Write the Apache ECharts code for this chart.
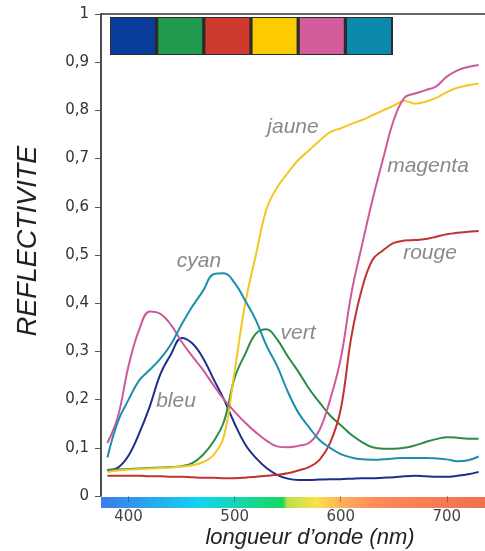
<!DOCTYPE html>
<html>
<head>
<meta charset="utf-8">
<script src="https://cdn.jsdelivr.net/npm/echarts@6.0.0/dist/echarts.min.js"></script>
<style>
  html, body { margin: 0; padding: 0; background: #fff; }
  #chart { width: 485px; height: 551px; }
</style>
</head>
<body>
<div id="chart"></div>
<script>
// longueurs d'onde (nm)
const wavelengths = [380, 390, 400, 410, 420, 430, 440, 450, 460, 470, 480, 490, 500, 510, 520, 530, 540, 550,
  560, 570, 580, 590, 600, 610, 620, 630, 640, 650, 660, 670, 680, 690, 700, 710, 720, 730];

const bleu = [0.054, 0.059, 0.084, 0.13, 0.186, 0.253, 0.294, 0.328, 0.317, 0.287, 0.243, 0.2, 0.15, 0.107, 0.079, 0.058, 0.044, 0.036,
  0.033, 0.033, 0.034, 0.035, 0.035, 0.036, 0.037, 0.037, 0.038, 0.039, 0.041, 0.042, 0.041, 0.04, 0.04, 0.042, 0.045, 0.05];
const vert = [0.054, 0.055, 0.056, 0.057, 0.058, 0.059, 0.06, 0.062, 0.068, 0.085, 0.113, 0.155, 0.245, 0.295, 0.337, 0.346, 0.325, 0.29,
  0.258, 0.223, 0.194, 0.167, 0.147, 0.127, 0.112, 0.101, 0.098, 0.098, 0.1, 0.105, 0.112, 0.118, 0.122, 0.121, 0.119, 0.119];
const rouge = [0.042, 0.042, 0.042, 0.042, 0.041, 0.041, 0.04, 0.04, 0.039, 0.038, 0.038, 0.037, 0.037, 0.038, 0.04, 0.042, 0.044, 0.047,
  0.053, 0.06, 0.075, 0.11, 0.18, 0.33, 0.43, 0.49, 0.51, 0.525, 0.53, 0.531, 0.533, 0.538, 0.543, 0.546, 0.548, 0.55];
const jaune = [0.05, 0.053, 0.055, 0.056, 0.057, 0.058, 0.059, 0.061, 0.064, 0.07, 0.085, 0.125, 0.26, 0.4, 0.5, 0.595, 0.64, 0.67,
  0.697, 0.717, 0.737, 0.755, 0.763, 0.772, 0.78, 0.79, 0.8, 0.81, 0.82, 0.814, 0.818, 0.826, 0.838, 0.847, 0.852, 0.856];
const magenta = [0.11, 0.165, 0.27, 0.345, 0.383, 0.378, 0.355, 0.32, 0.29, 0.262, 0.23, 0.2, 0.175, 0.152, 0.132, 0.115, 0.103, 0.101,
  0.104, 0.11, 0.137, 0.2, 0.285, 0.42, 0.52, 0.615, 0.7, 0.78, 0.826, 0.835, 0.842, 0.85, 0.87, 0.883, 0.89, 0.894];
const cyan = [0.08, 0.155, 0.2, 0.24, 0.262, 0.285, 0.315, 0.356, 0.393, 0.425, 0.46, 0.462, 0.442, 0.405, 0.365, 0.312, 0.27, 0.217,
  0.173, 0.143, 0.116, 0.1, 0.087, 0.08, 0.076, 0.075, 0.076, 0.078, 0.079, 0.079, 0.079, 0.078, 0.076, 0.072, 0.074, 0.082];

const xTicks = [400, 500, 600, 700];
const curveNames = ['bleu', 'vert', 'rouge', 'jaune', 'magenta', 'cyan'];

const chart = echarts.init(document.getElementById('chart'));

const lineColors = {
  bleu: '#1f2d8c', vert: '#2e8b45', rouge: '#c0332e',
  jaune: '#f4c623', magenta: '#cc5a98', cyan: '#1a8fae'
};
const swatchColors = ['#0a3c9c', '#219a4d', '#cf3a2e', '#fecb00', '#d35d9c', '#0b89ad'];
const values = {bleu, vert, rouge, jaune, magenta, cyan};

// position des étiquettes des courbes (pixels)
const labelPos = {
  jaune: [293, 127], magenta: [428, 166], rouge: [430, 253],
  cyan: [199, 261], vert: [298, 333], bleu: [176, 401]
};

const graphics = [];
// bande de couleurs en haut
graphics.push({type: 'rect', shape: {x: 110, y: 17, width: 283, height: 38}, style: {fill: '#2b2b2b'}, z: 10});
swatchColors.forEach((c, i) => {
  graphics.push({
    type: 'rect',
    shape: {x: 111 + i * 47.2, y: 18, width: 44, height: 36},
    style: {fill: c}, z: 11
  });
});
// spectre sous l'axe x
graphics.push({
  type: 'rect',
  shape: {x: 101, y: 497, width: 384, height: 11},
  style: {
    fill: new echarts.graphic.LinearGradient(0, 0, 1, 0, [
      {offset: 0, color: '#3d7be9'},
      {offset: 0.26, color: '#12d4f2'},
      {offset: 0.474, color: '#18d85a'},
      {offset: 0.484, color: '#b8e04a'},
      {offset: 0.56, color: '#f8e24a'},
      {offset: 0.63, color: '#ffac5c'},
      {offset: 0.72, color: '#ff8a5a'},
      {offset: 1, color: '#f0704e'}
    ])
  },
  z: 1
});
// titres des axes
graphics.push({
  type: 'text', x: 28, y: 241, rotation: Math.PI / 2,
  style: {
    text: 'REFLECTIVITE', fill: '#222', fontSize: 27, fontStyle: 'italic',
    fontFamily: 'Liberation Sans', textAlign: 'center', textVerticalAlign: 'middle'
  }
});
graphics.push({
  type: 'text', x: 310, y: 538,
  style: {
    text: 'longueur d’onde (nm)', fill: '#222', fontSize: 22, fontStyle: 'italic',
    fontFamily: 'Liberation Sans', textAlign: 'center', textVerticalAlign: 'middle'
  }
});
curveNames.forEach(n => {
  graphics.push({
    type: 'text', x: labelPos[n][0], y: labelPos[n][1],
    style: {
      text: n, fill: '#8a8a8a', fontSize: 21, fontStyle: 'italic',
      fontFamily: 'Liberation Sans', textAlign: 'center', textVerticalAlign: 'middle'
    },
    z: 20
  });
});

chart.setOption({
  animation: false,
  grid: {left: 101, right: 0, top: 14, bottom: 55},
  xAxis: [
    {
      type: 'value', min: 374, max: 736, z: 5,
      axisLine: {show: false},
      splitLine: {show: false},
      axisTick: {show: true, length: 6, customValues: xTicks, lineStyle: {color: 'rgba(60,60,60,0.45)'}},
      axisLabel: {
        customValues: xTicks, margin: 14, color: '#444', fontSize: 15, fontFamily: 'DejaVu Sans'
      }
    },
    {
      type: 'value', position: 'top', min: 374, max: 736,
      axisLine: {show: true, lineStyle: {color: '#333', width: 1.5}},
      axisTick: {show: false}, axisLabel: {show: false}, splitLine: {show: false}
    }
  ],
  yAxis: {
    type: 'value', min: 0, max: 1, interval: 0.1,
    axisLine: {show: true, lineStyle: {color: '#111', width: 1.5}},
    axisTick: {show: true, length: 6, lineStyle: {color: '#555'}},
    splitLine: {show: false},
    axisLabel: {
      margin: 12, color: '#333', fontSize: 15, fontFamily: 'DejaVu Sans',
      formatter: v => (v === 0 ? '0' : v === 1 ? '1' : v.toFixed(1).replace('.', ','))
    }
  },
  graphic: graphics,
  series: curveNames.map(n => ({
    name: n,
    type: 'line',
    showSymbol: false,
    smooth: 0.4,
    lineStyle: {color: lineColors[n], width: 2},
    itemStyle: {color: lineColors[n]},
    data: wavelengths.map((w, i) => [w, values[n][i]])
  }))
});
</script>
</body>
</html>
